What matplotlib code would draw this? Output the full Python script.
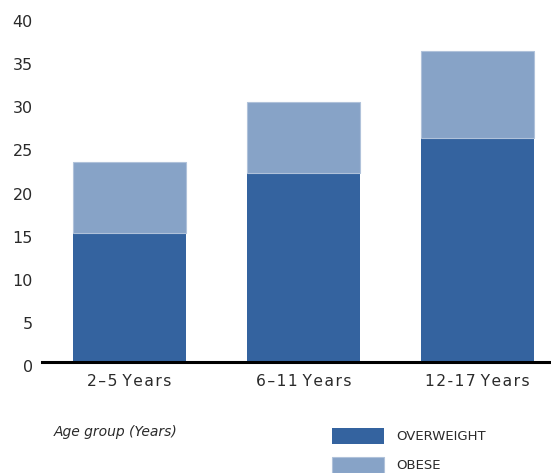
import matplotlib

matplotlib.use("Agg")
import matplotlib.pyplot as plt
import matplotlib.transforms as mtransforms

# data
age_groups = ["2\u20135 Years", "6\u201311 Years", "12-17 Years"]
overweight = [15.0, 21.9, 26.0]
obese = [8.2, 8.2, 10.1]
y_ticks = [0, 5, 10, 15, 20, 25, 30, 35, 40]

DARK = "#34639F"
LIGHT = "#87A3C7"
TEXT = "#2a2a2a"


def spaced(s, gap="\u200a"):
    # the original uses tracked (letter-spaced) type; keep word gaps as they are
    return " ".join(gap.join(word) for word in s.split(" "))


W, H = 551, 473
fig = plt.figure(figsize=(W / 100, H / 100), dpi=100)
ax = fig.add_axes([42 / W, 111 / H, 509 / W, 345 / H])

x = range(len(age_groups))
ax.bar(x, overweight, width=0.65, color=DARK, label="OVERWEIGHT", zorder=2)
ax.bar(x, obese, width=0.65, bottom=overweight, color=LIGHT, edgecolor="#b0c2da",
       linewidth=0.8, label="OBESE", zorder=2)

ax.set_xlim(-0.5, 2.42)
ax.set_ylim(0, 40)
ax.set_yticks(y_ticks)
ax.set_xticks(list(x))
ax.set_xticklabels([spaced(a) for a in age_groups], fontsize=11.2, color=TEXT)
ax.tick_params(axis="y", length=0, pad=6.5, labelsize=11.5, labelcolor=TEXT)
ax.tick_params(axis="x", length=0, pad=8.5)

# Excel-style labels sit a few pixels below their gridline value
offset = mtransforms.ScaledTranslation(0, -4 / 100, fig.dpi_scale_trans)
for lbl in ax.get_yticklabels():
    lbl.set_transform(lbl.get_transform() + offset)

for side in ["top", "right", "left"]:
    ax.spines[side].set_visible(False)
ax.spines["bottom"].set_linewidth(2.2)
ax.spines["bottom"].set_color("black")
ax.spines["bottom"].set_zorder(3)

fig.text(54 / W, 1 - 432 / H, "Age group (Years)", fontsize=10, style="italic",
         color=TEXT, ha="left", va="center")

ax.legend(loc="upper left", bbox_to_anchor=(331.7 / W, 1 - 428.3 / H),
          bbox_transform=fig.transFigure, frameon=False, borderpad=0,
          borderaxespad=0, handlelength=4.0, handleheight=1.4,
          handletextpad=0.92, labelspacing=1.05, fontsize=9.5,
          labelcolor=TEXT)

fig.savefig("out.png", dpi=100)
